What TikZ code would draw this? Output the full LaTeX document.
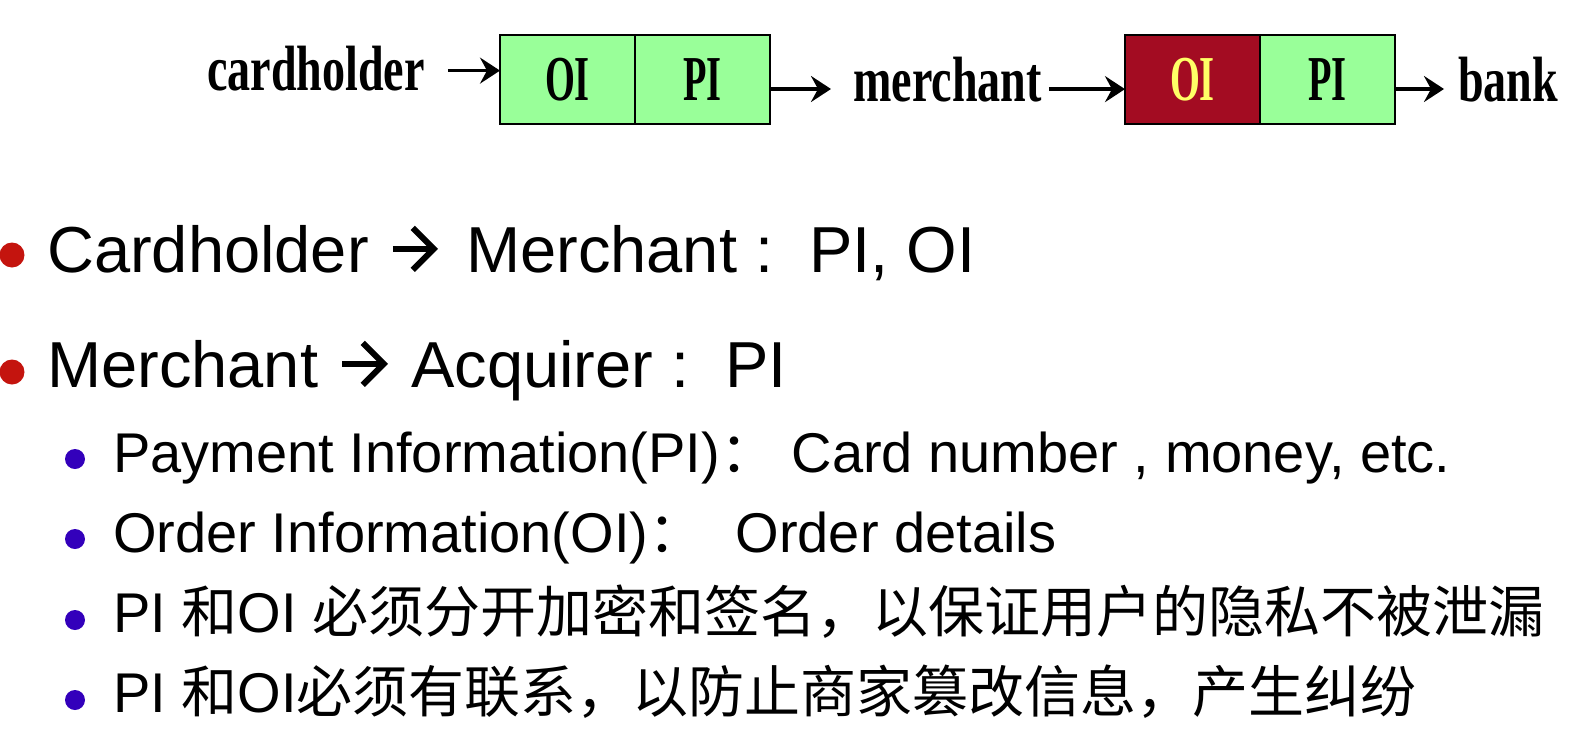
\documentclass[tikz,border=0pt]{standalone}
\usepackage{fontspec}
\setmainfont{Liberation Sans}
\newfontfamily\cjk{Noto Sans CJK SC}
\newfontfamily\topfont[FakeStretch=0.72]{Liberation Serif}
\newfontfamily\cellfont[FakeStretch=0.6]{Liberation Serif}
\usetikzlibrary{positioning, arrows.meta}
\definecolor{cellgreen}{RGB}{153,255,153}
\definecolor{celldark}{RGB}{163,12,34}
\definecolor{cellyellow}{RGB}{255,255,102}
\definecolor{dotred}{RGB}{196,20,14}
\definecolor{dotblue}{RGB}{51,0,187}

\begin{document}
\begin{tikzpicture}[x=1pt, y=-1pt,
        party/.style={inner sep=0pt, anchor=base west, font=\topfont\bfseries\fontsize{64}{70}\selectfont},
        cell/.style={draw, line width=1.8pt, fill=cellgreen, minimum width=135pt, minimum height=89pt,
            inner sep=0pt, outer sep=0pt, font=\cellfont\bfseries\fontsize{64}{70}\selectfont},
        flow/.style={-{Stealth[length=20pt, width=26pt, inset=7pt]}, line width=4pt},
        textflow/.style={-{Straight Barb[length=21pt, width=42pt]}, line width=6pt},
        bigdot/.style={circle, fill=dotred, inner sep=0pt, minimum size=25pt},
        smalldot/.style={circle, fill=dotblue, inner sep=0pt, minimum size=20pt},
        mainline/.style={inner sep=0pt, anchor=base west, font=\fontsize{65}{78}\selectfont},
        subline/.style={inner sep=0pt, anchor=base west, font=\fontsize{56}{67}\selectfont}
    ]
    \useasboundingbox (0,0) rectangle (1595,755);

    % message flow: cardholder -> merchant -> bank
    \node[party] (cardholder) at (207,90) {cardholder};
    \node[cell, anchor=north west] (oi1) at (500,35) {OI};
    \node[cell, right=0pt of oi1] (pi1) {PI};
    \node[party] (merchant) at (853,101) {merchant};
    \node[cell, fill=celldark, text=cellyellow, anchor=north west] (oi2) at (1125,35) {OI};
    \node[cell, right=0pt of oi2] (pi2) {PI};
    \node[party] (bank) at (1458,101) {bank};
    \draw[flow, line width=3pt, shorten <=23pt] ([yshift=-2.5pt]cardholder.east) -- ([yshift=-2.5pt]cardholder.east -| oi1.west);
    \draw[flow, shorten >=22pt] ([yshift=-9.5pt]pi1.east) -- ([yshift=-9.5pt]pi1.east -| merchant.west);
    \draw[flow, shorten <=7pt] ([yshift=-10pt]merchant.east) -- ([yshift=-10pt]merchant.east -| oi2.west);
    \draw[flow, shorten >=14pt] ([yshift=-9.5pt]pi2.east) -- ([yshift=-9.5pt]pi2.east -| bank.west);

    % bullet list
    \node[bigdot] (d1) at (12,255) {};
    \node[mainline] (from1) at (47,272) {Cardholder};
    \node[mainline] (to1) at (466,272) {Merchant :~~PI, OI};
    \draw[textflow, shorten <=24pt, shorten >=28pt] (from1.east) -- (from1.east -| to1.west);
    \node[bigdot] (d2) at (12,372) {};
    \node[mainline] (from2) at (47,387) {Merchant};
    \node[mainline] (to2) at (411,387) {Acquirer :~~PI};
    \draw[textflow, shorten <=24pt, shorten >=23pt] (from2.east) -- (from2.east -| to2.west);
    \node[smalldot] (d3) at (75,459) {};
    \node[subline] (l3) at (113,472) {Payment Information(PI){\cjk ：} Card number , money, etc.};
    \node[smalldot] (d4) at (75,539) {};
    \node[subline] (l4) at (113,552) {Order Information(OI){\cjk ：}~~Order details};
    \node[smalldot] (d5) at (75,620) {};
    \node[subline] (l5) at (113,632) {PI {\cjk 和}OI {\cjk 必须分开加密和签名，以保证用户的隐私不被泄漏}};
    \node[smalldot] (d6) at (75,700) {};
    \node[subline] (l6) at (113,712) {PI {\cjk 和}OI{\cjk 必须有联系，以防止商家篡改信息，产生纠纷}};
\end{tikzpicture}
\end{document}
